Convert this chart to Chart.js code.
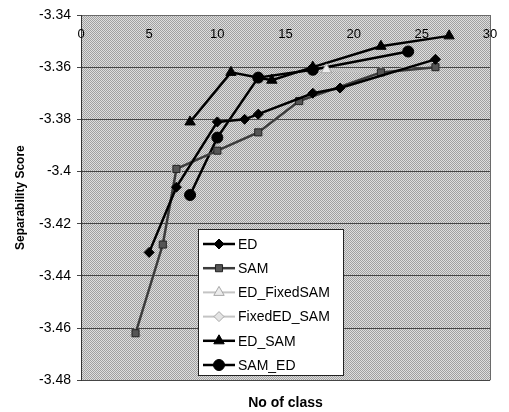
<!DOCTYPE html>
<html>
<head>
<meta charset="utf-8">
<script src="https://cdn.jsdelivr.net/npm/chart.js@4.4.1/dist/chart.umd.min.js"></script>
<style>
  html, body { margin: 0; padding: 0; background: #fff; }
  #wrap { width: 509px; height: 412px; }
</style>
</head>
<body>
<div id="wrap"><canvas id="sepChart" width="509" height="412"></canvas></div>
<script>
// series values (x = no of class, y = separability score)
const edX = [5, 7, 10, 12, 13, 17, 19, 26];
const edY = [-3.431, -3.406, -3.381, -3.380, -3.378, -3.370, -3.368, -3.357];
const samX = [4, 6, 7, 10, 13, 16, 22, 26];
const samY = [-3.462, -3.428, -3.399, -3.392, -3.385, -3.373, -3.362, -3.360];
const edFixedSamX = [4, 6, 7, 10, 13, 16, 18, 22, 26];
const edFixedSamY = [-3.462, -3.428, -3.399, -3.392, -3.385, -3.373, -3.361, -3.362, -3.358];
const fixedEdSamX = [5, 7, 10, 12, 13, 17, 19, 26];
const fixedEdSamY = [-3.431, -3.406, -3.381, -3.380, -3.378, -3.370, -3.368, -3.357];
const edSamX = [8, 11, 14, 17, 22, 27];
const edSamY = [-3.381, -3.362, -3.365, -3.360, -3.352, -3.348];
const samEdX = [8, 10, 13, 17, 24];
const samEdY = [-3.409, -3.387, -3.364, -3.361, -3.354];

const seriesNames = ['ED', 'SAM', 'ED_FixedSAM', 'FixedED_SAM', 'ED_SAM', 'SAM_ED'];
const xTicks = [0, 5, 10, 15, 20, 25, 30];
const yMin = -3.48, yMax = -3.34, yStep = 0.02;

const FONT = "'Liberation Sans', Arial, sans-serif";

function pairs(xs, ys) {
    return xs.map((x, i) => ({ x: x, y: ys[i] }));
}

// dithered grey like the scanned plot area
function makePattern() {
    const c = document.createElement('canvas');
    c.width = 2; c.height = 2;
    const g = c.getContext('2d');
    g.fillStyle = '#dedede'; g.fillRect(0, 0, 2, 2);
    g.fillStyle = '#a0a0a0'; g.fillRect(0, 0, 1, 1); g.fillRect(1, 1, 1, 1);
    return g.createPattern(c, 'repeat');
}

const plotBg = {
    id: 'plotBg',
    beforeDraw(chart) {
        const { ctx, chartArea: a } = chart;
        ctx.save();
        ctx.fillStyle = '#fff';
        ctx.fillRect(0, 0, chart.width, chart.height);
        ctx.fillStyle = makePattern();
        ctx.fillRect(a.left, a.top, a.right - a.left, a.bottom - a.top);
        ctx.strokeStyle = '#6a6a6a';
        ctx.lineWidth = 1;
        ctx.beginPath();
        ctx.moveTo(a.right + 0.5, a.top);
        ctx.lineTo(a.right + 0.5, a.bottom);
        ctx.stroke();
        ctx.restore();
    }
};

// x labels sit just inside the top edge of the plot, Excel style
const innerXLabels = {
    id: 'innerXLabels',
    afterDatasetsDraw(chart) {
        const ctx = chart.ctx;
        const sx = chart.scales.x;
        ctx.save();
        ctx.font = '13px ' + FONT;
        ctx.fillStyle = '#000';
        ctx.textAlign = 'center';
        ctx.textBaseline = 'middle';
        sx.ticks.forEach(t => {
            ctx.fillText(String(t.value), sx.getPixelForValue(t.value), chart.chartArea.top + 19);
        });
        ctx.restore();
    }
};

// legend box sits inside the plot, like the Excel original
const boxLegend = {
    id: 'boxLegend',
    afterDraw(chart) {
        const ctx = chart.ctx;
        const bx = 198, by = 229, bw = 145, bh = 146;
        ctx.save();
        ctx.fillStyle = '#fff';
        ctx.fillRect(bx, by, bw, bh);
        ctx.strokeStyle = '#222';
        ctx.lineWidth = 1;
        ctx.strokeRect(bx + 0.5, by + 0.5, bw, bh);
        ctx.font = '14px ' + FONT;
        ctx.textBaseline = 'middle';
        chart.data.datasets.forEach((ds, i) => {
            const y = by + 15 + i * 24.2;
            ctx.strokeStyle = ds.borderColor;
            ctx.lineWidth = ds.borderWidth;
            ctx.beginPath();
            ctx.moveTo(203, y);
            ctx.lineTo(235, y);
            ctx.stroke();
            ctx.fillStyle = ds.pointBackgroundColor;
            ctx.strokeStyle = ds.pointBorderColor;
            ctx.lineWidth = 1;
            Chart.helpers.drawPoint(ctx, {
                pointStyle: ds.pointStyle, rotation: 0,
                radius: ds.pointRadius, borderWidth: 1
            }, 219, y);
            ctx.fillStyle = '#000';
            ctx.fillText(ds.label, 238, y + 1);
        });
        ctx.restore();
    }
};

const styles = [
    { line: '#000', fill: '#000', edge: '#000', shape: 'rectRot', r: 5, w: 2.5 },
    { line: '#3c3c3c', fill: '#555', edge: '#222', shape: 'rect', r: 5, w: 2.5 },
    { line: '#c4c4c4', fill: '#ececec', edge: '#a8a8a8', shape: 'triangle', r: 6, w: 2 },
    { line: '#c4c4c4', fill: '#e4e4e4', edge: '#a8a8a8', shape: 'rectRot', r: 5, w: 2 },
    { line: '#000', fill: '#000', edge: '#000', shape: 'triangle', r: 6, w: 2.5 },
    { line: '#000', fill: '#000', edge: '#000', shape: 'circle', r: 5.5, w: 2.5 }
];
const seriesData = [
    pairs(edX, edY), pairs(samX, samY), pairs(edFixedSamX, edFixedSamY),
    pairs(fixedEdSamX, fixedEdSamY), pairs(edSamX, edSamY), pairs(samEdX, samEdY)
];

const datasets = seriesNames.map((name, i) => ({
    label: name,
    data: seriesData[i],
    borderColor: styles[i].line,
    borderWidth: styles[i].w,
    pointStyle: styles[i].shape,
    pointRadius: styles[i].r,
    pointBackgroundColor: styles[i].fill,
    pointBorderColor: styles[i].edge,
    pointBorderWidth: 1,
    tension: 0,
    fill: false
}));

new Chart(document.getElementById('sepChart'), {
    type: 'line',
    data: { datasets: datasets },
    options: {
        responsive: false,
        animation: false,
        events: [],
        layout: { padding: { left: 0, top: 15, right: 19, bottom: 0 } },
        plugins: {
            legend: { display: false },
            tooltip: { enabled: false }
        },
        scales: {
            x: {
                type: 'linear',
                position: 'top',
                min: 0,
                max: 30,
                afterBuildTicks: (s) => { s.ticks = xTicks.map(v => ({ value: v })); },
                afterFit: (s) => { s.height = 0; },
                grid: { display: false, drawTicks: false },
                border: { display: true, color: '#6a6a6a', width: 1 },
                ticks: { display: false }
            },
            xTitle: {
                type: 'linear',
                position: 'bottom',
                grid: { display: false, drawTicks: false },
                border: { display: false },
                ticks: { display: false },
                title: {
                    display: true,
                    text: 'No of class',
                    color: '#000',
                    font: { size: 14, weight: 'bold', family: FONT },
                    padding: { top: 15, bottom: 0 }
                }
            },
            y: {
                type: 'linear',
                min: yMin,
                max: yMax,
                afterFit: (s) => { s.width = 81; },
                grid: { color: '#454545', lineWidth: 1, tickLength: 4 },
                border: { display: true, color: '#333', width: 1 },
                ticks: {
                    stepSize: yStep,
                    padding: 6,
                    color: '#000',
                    font: { size: 14, family: FONT },
                    callback: (v) => String(Number(v.toFixed(2)))
                },
                title: {
                    display: true,
                    text: 'Separability Score',
                    color: '#000',
                    font: { size: 12, weight: 'bold', family: FONT },
                    padding: { top: 13, bottom: 0 }
                }
            }
        }
    },
    plugins: [plotBg, innerXLabels, boxLegend]
});
</script>
</body>
</html>
